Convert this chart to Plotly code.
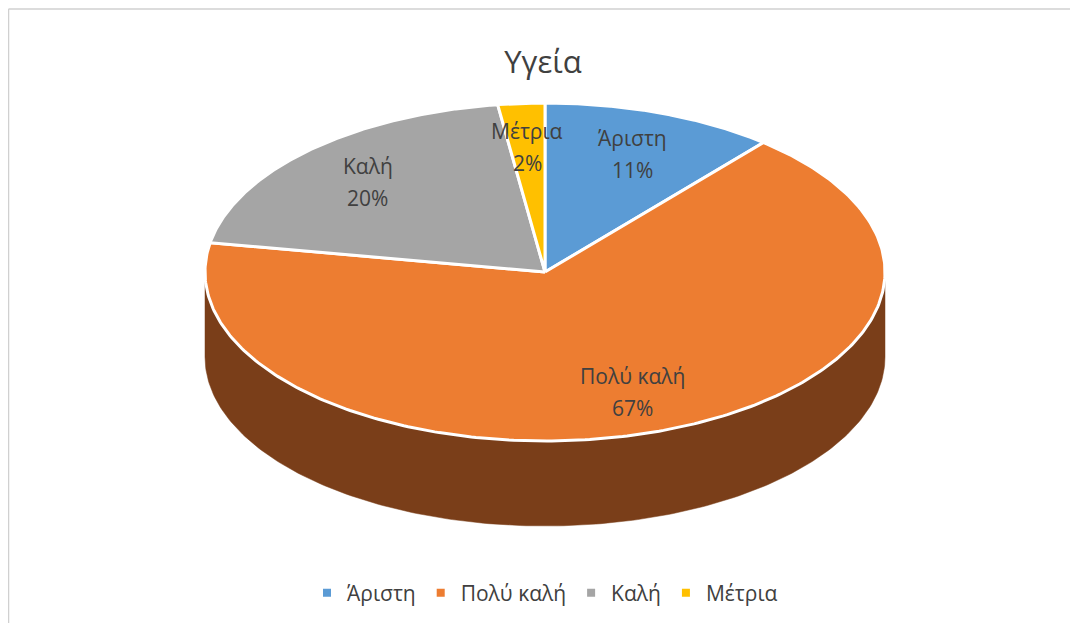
import numpy as np
import plotly.graph_objects as go

# ---- data ----
categories = ["Άριστη", "Πολύ καλή", "Καλή", "Μέτρια"]
counts = [5, 30, 9, 1]
title_text = "Υγεία"

# ---- style ----
top_colors = ["#5B9BD5", "#ED7D31", "#A5A5A5", "#FFC000"]
side_colors = ["#2F5A82", "#7A3E19", "#5E5E5E", "#8F6C00"]
TEXT = "#404040"
FONT = "Open Sans"
OFF = 8  # page body margin
W, H = 1078 - OFF, 623 - OFF
CX, CY, RX, RY, DEPTH = 545.0, 272.0, 340.0, 169.0, 85.0
LABEL_R = 0.75


def pt(theta_deg, r=1.0, dz=0.0):
    t = np.radians(theta_deg)
    return CX + r * RX * np.sin(t), CY - r * RY * np.cos(t) + dz


total = float(sum(counts))
angles = np.cumsum([0] + [c / total * 360.0 for c in counts])
pcts = [int(round(c / total * 100)) for c in counts]

fig = go.Figure()

# sides (visible where the rim faces the viewer: 90..270 deg)
for i in range(len(counts)):
    a0, a1 = max(angles[i], 90.0), min(angles[i + 1], 270.0)
    if a1 <= a0:
        continue
    th = np.linspace(a0, a1, 200)
    xt, yt = pt(th)
    xb, yb = pt(th[::-1], dz=DEPTH)
    fig.add_trace(go.Scatter(
        x=np.concatenate([xt, xb, xt[:1]]), y=np.concatenate([yt, yb, yt[:1]]),
        mode="lines", fill="toself", fillcolor=side_colors[i],
        line=dict(color=side_colors[i], width=0.5),
        hoverinfo="skip", showlegend=False))

# top faces
for i in range(len(counts)):
    th = np.linspace(angles[i], angles[i + 1], 300)
    xa, ya = pt(th)
    x = np.concatenate([[CX], xa, [CX]])
    y = np.concatenate([[CY], ya, [CY]])
    fig.add_trace(go.Scatter(
        x=x, y=y, mode="lines", fill="toself", fillcolor=top_colors[i],
        line=dict(color="white", width=3), hoverinfo="skip", showlegend=False))

# legend entries
for i, c in enumerate(categories):
    fig.add_trace(go.Scatter(
        x=[None], y=[None], mode="markers", name=c,
        marker=dict(symbol="square", size=8, color=top_colors[i])))

# labels
annotations = []
for i, c in enumerate(categories):
    mid = (angles[i] + angles[i + 1]) / 2.0
    lx, ly = pt(mid, r=LABEL_R)
    annotations.append(dict(x=lx, y=ly, text=c, showarrow=False, yshift=15,
                            font=dict(size=21, color=TEXT, family=FONT)))
    annotations.append(dict(x=lx, y=ly, text=f"{pcts[i]}%", showarrow=False, yshift=-17,
                            font=dict(size=21, color=TEXT, family=FONT)))

shapes = [
    dict(type="line", x0=OFF + 0.5, x1=1078 + OFF, y0=9, y1=9, line=dict(color="#D0D0D0", width=1.5)),
    dict(type="line", x0=OFF + 0.5, x1=OFF + 0.5, y0=9, y1=623 + OFF, line=dict(color="#D0D0D0", width=1.5)),
]

fig.update_layout(
    width=W, height=H,
    margin=dict(l=0, r=0, t=0, b=0),
    paper_bgcolor="white", plot_bgcolor="white",
    title=dict(text=title_text, x=0.5, xanchor="center", y=1 - (62 - OFF) / H, yanchor="middle",
               font=dict(size=31, color=TEXT, family=FONT)),
    xaxis=dict(range=[OFF, OFF + W], visible=False, fixedrange=True),
    yaxis=dict(range=[OFF + H, OFF], visible=False, fixedrange=True),
    showlegend=True,
    legend=dict(orientation="h", x=(545 - OFF) / W, xanchor="center", y=1 - (593 - OFF) / H,
                yanchor="middle",
                font=dict(size=21, color=TEXT, family=FONT), itemwidth=30,
                bgcolor="rgba(0,0,0,0)"),
    annotations=annotations,
    shapes=shapes,
)

fig.write_html("out.html")
